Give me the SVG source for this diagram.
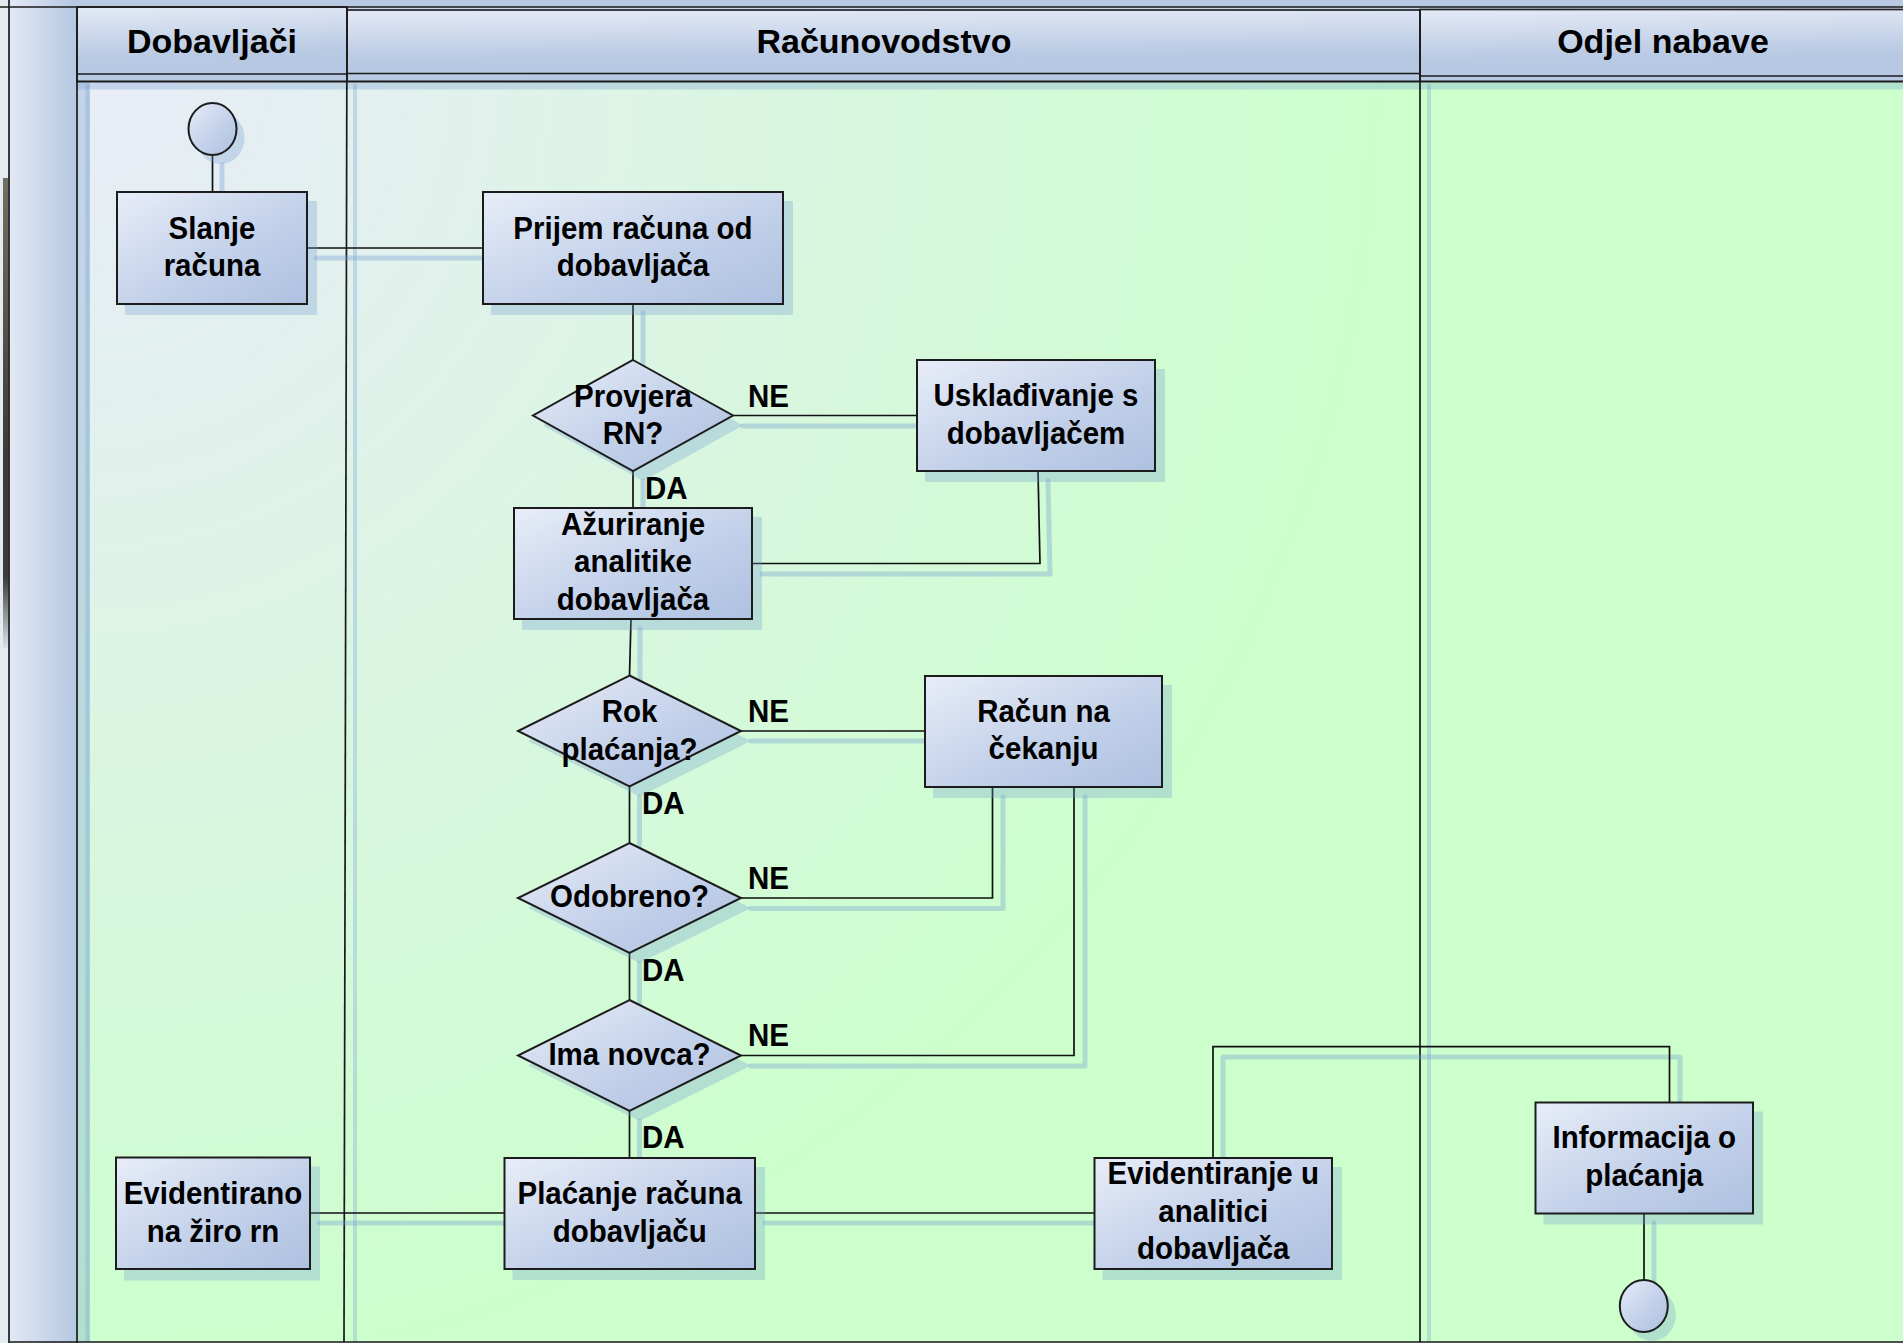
<svg xmlns="http://www.w3.org/2000/svg" width="1903" height="1343" viewBox="0 0 1903 1343">
<defs>
<radialGradient id="poolBg" gradientUnits="userSpaceOnUse" cx="80" cy="80" r="1320">
<stop offset="0" stop-color="#e8ecf6"/>
<stop offset="0.12" stop-color="#e5eef3"/>
<stop offset="1" stop-color="#ccffcc"/>
</radialGradient>
<linearGradient id="barGrad" x1="0" y1="0" x2="1" y2="0">
<stop offset="0" stop-color="#e3e9f4"/>
<stop offset="1" stop-color="#b5c7e2"/>
</linearGradient>
<linearGradient id="hdrGrad" x1="0" y1="0" x2="0.12" y2="1">
<stop offset="0" stop-color="#e4eaf6"/>
<stop offset="0.7" stop-color="#b8c9e3"/>
<stop offset="1" stop-color="#b6c8e2"/>
</linearGradient>
<linearGradient id="nodeGrad" x1="0" y1="0" x2="1" y2="1">
<stop offset="0" stop-color="#e8edf8"/>
<stop offset="0.55" stop-color="#c3d1ea"/>
<stop offset="1" stop-color="#aec1e0"/>
</linearGradient>
<linearGradient id="edgeDark" x1="0" y1="0" x2="0" y2="1">
<stop offset="0" stop-color="#707062"/>
<stop offset="0.6" stop-color="#3a3a36"/>
<stop offset="0.85" stop-color="#3c3c3e"/>
<stop offset="1" stop-color="#dde3ea"/>
</linearGradient>
</defs>
<style>
.node{fill:url(#nodeGrad);stroke:#1c1c1c;stroke-width:2}
.shadow{fill:#6f9bd0;fill-opacity:0.3;stroke:none}
.conn{fill:none;stroke:#111;stroke-width:1.7}
.cshadow{fill:none;stroke:#6f9bd0;stroke-opacity:0.35;stroke-width:5;stroke-linecap:round;stroke-linejoin:round}
.lbl{font-family:"Liberation Sans",Arial,sans-serif;font-weight:bold;font-size:29.5px;fill:#000;text-anchor:middle;transform-box:fill-box;transform-origin:center;transform:scaleY(1.08)}
.edge{font-family:"Liberation Sans",Arial,sans-serif;font-weight:bold;font-size:29.5px;fill:#000;transform-box:fill-box;transform-origin:center;transform:scaleY(1.08)}
.hdrtxt{font-family:"Liberation Sans",Arial,sans-serif;font-weight:bold;font-size:34px;fill:#000;text-anchor:middle}
.hdr{fill:url(#hdrGrad);stroke:#222;stroke-width:1.7}
.line{stroke:#1a1a1a;stroke-width:1.7;fill:none}
.lshadow{stroke:#6f9bd0;stroke-opacity:0.3;stroke-width:4;fill:none}
</style>

<g id="pool">
<rect x="0" y="0" width="1903" height="1343" fill="#e4ecf2"/>
<rect x="3" y="178" width="5.5" height="470" fill="url(#edgeDark)"/>
<rect x="9" y="0" width="1894" height="7" fill="#b8c9e3"/>
<rect x="9" y="0" width="68" height="1343" fill="url(#barGrad)"/>
<rect x="77" y="7" width="1826" height="4" fill="#c9d6eb"/>
<rect x="77" y="81" width="1826" height="1261" fill="url(#poolBg)"/>
<rect x="77" y="82.5" width="1826" height="7" class="shadow" fill-opacity="0.22"/>
<rect x="77" y="82" width="13" height="1260" class="shadow" fill-opacity="0.2"/>
<line x1="87.5" y1="84" x2="87.5" y2="1342" class="lshadow"/>
<line x1="355" y1="84" x2="355" y2="1342" class="lshadow"/>
<line x1="1429" y1="84" x2="1429" y2="1342" class="lshadow"/>
</g>

<g id="lane-dobavljaci">
<rect x="77" y="7" width="270" height="74.5" class="hdr"/>
<line x1="77" y1="74" x2="347" y2="74" class="line"/>
<text x="212" y="52.7" class="hdrtxt">Dobavljači</text>
</g>
<g id="lane-racunovodstvo">
<rect x="347" y="10" width="1073" height="71.5" class="hdr"/>
<line x1="347" y1="73.5" x2="1420" y2="73.5" class="line"/>
<text x="884" y="52.7" class="hdrtxt">Računovodstvo</text>
</g>
<g id="lane-odjel-nabave">
<rect x="1420" y="9.5" width="490" height="72" class="hdr"/>
<line x1="1420" y1="76" x2="1903" y2="76" class="line"/>
<text x="1663" y="52.7" class="hdrtxt">Odjel nabave</text>
</g>

<g id="pool-lines">
<line x1="0" y1="7" x2="1903" y2="7" class="line"/>
<line x1="77" y1="81.5" x2="1903" y2="81.5" class="line"/>
<line x1="9" y1="0" x2="9" y2="1343" class="line" stroke-width="1.3"/>
<line x1="77" y1="7" x2="77" y2="1343" class="line"/>
<line x1="347" y1="7" x2="344" y2="1342" class="line"/>
<line x1="1420" y1="9.5" x2="1420" y2="1342" class="line"/>
<line x1="9" y1="1342" x2="1903" y2="1342" class="line" stroke="#555"/>
</g>

<g id="connector-shadows">
<path class="cshadow" d="M222 165V204"/>
<path class="cshadow" d="M316 258H495"/>
<path class="cshadow" d="M643 313V372"/>
<path class="cshadow" d="M743 426H929"/>
<path class="cshadow" d="M643 481V520"/>
<path class="cshadow" d="M1048 481L1050 574H762"/>
<path class="cshadow" d="M640 629V688"/>
<path class="cshadow" d="M751 741H936"/>
<path class="cshadow" d="M639.5 797V855"/>
<path class="cshadow" d="M751 908.5H1003V797"/>
<path class="cshadow" d="M639.5 963V1012"/>
<path class="cshadow" d="M751 1066H1085V797"/>
<path class="cshadow" d="M639.5 1121V1170"/>
<path class="cshadow" d="M319 1223H516"/>
<path class="cshadow" d="M765 1223H1106"/>
<path class="cshadow" d="M1223 1167V1057H1680V1113"/>
<path class="cshadow" d="M1654 1223V1290"/>
</g>

<g id="connectors">
<path class="conn" d="M212.5 155V192"/>
<path class="conn" d="M307 248H483"/>
<path class="conn" d="M633 304V360"/>
<path class="conn" d="M733 415.5H917"/>
<path class="conn" d="M633 471V508"/>
<path class="conn" d="M1038 471L1040 563.5H752"/>
<path class="conn" d="M631 619L629.5 675.5"/>
<path class="conn" d="M741 731H925"/>
<path class="conn" d="M629.5 786.5V843"/>
<path class="conn" d="M741 898H992.5V787"/>
<path class="conn" d="M629.5 953V1000"/>
<path class="conn" d="M741 1055.5H1074V787"/>
<path class="conn" d="M629.5 1111V1158"/>
<path class="conn" d="M310 1213H504.5"/>
<path class="conn" d="M755 1213H1094.5"/>
<path class="conn" d="M1213 1158V1046.7H1669.5V1102.5"/>
<path class="conn" d="M1644 1213.5V1280"/>
<text x="748" y="406.7" class="edge">NE</text>
<text x="645" y="498" class="edge">DA</text>
<text x="748" y="721.7" class="edge">NE</text>
<text x="642" y="813" class="edge">DA</text>
<text x="748" y="888.3" class="edge">NE</text>
<text x="642" y="980.7" class="edge">DA</text>
<text x="748" y="1044.8" class="edge">NE</text>
<text x="642" y="1147.3" class="edge">DA</text>
</g>

<g id="start">
<ellipse cx="220.5" cy="138" rx="24" ry="26" class="shadow"/>
<ellipse cx="212.5" cy="129" rx="24" ry="26" class="node" stroke-width="1.7"/>
</g>
<g id="slanje-racuna">
<rect x="125" y="201" width="192" height="114" class="shadow"/>
<rect x="117" y="192" width="190" height="112" class="node"/>
<text class="lbl" x="212" y="238">Slanje</text>
<text class="lbl" x="212" y="275.5">računa</text>
</g>
<g id="prijem-racuna">
<rect x="491" y="201" width="302" height="114" class="shadow"/>
<rect x="483" y="192" width="300" height="112" class="node"/>
<text class="lbl" x="633" y="238">Prijem računa od</text>
<text class="lbl" x="633" y="275.5">dobavljača</text>
</g>
<g id="provjera-rn">
<polygon points="643,370 743,425.5 643,481 543,425.5" class="shadow"/>
<polygon points="633,360 733,415.5 633,471 533,415.5" class="node" stroke-width="1.7"/>
<text class="lbl" x="633" y="406">Provjera</text>
<text class="lbl" x="633" y="443">RN?</text>
</g>
<g id="uskladivanje">
<rect x="925" y="369" width="240" height="113" class="shadow"/>
<rect x="917" y="360" width="238" height="111" class="node"/>
<text class="lbl" x="1036" y="405.5">Usklađivanje s</text>
<text class="lbl" x="1036" y="443">dobavljačem</text>
</g>
<g id="azuriranje">
<rect x="522" y="517" width="240" height="113" class="shadow"/>
<rect x="514" y="508" width="238" height="111" class="node"/>
<text class="lbl" x="633" y="534">Ažuriranje</text>
<text class="lbl" x="633" y="571.7">analitike</text>
<text class="lbl" x="633" y="609">dobavljača</text>
</g>
<g id="rok-placanja">
<polygon points="639.5,685.5 751,741 639.5,796.5 528,741" class="shadow"/>
<polygon points="629.5,675.5 741,731 629.5,786.5 518,731" class="node" stroke-width="1.7"/>
<text class="lbl" x="629.5" y="721">Rok</text>
<text class="lbl" x="629.5" y="759">plaćanja?</text>
</g>
<g id="racun-na-cekanju">
<rect x="933" y="685" width="239" height="113" class="shadow"/>
<rect x="925" y="676" width="237" height="111" class="node"/>
<text class="lbl" x="1043.5" y="721">Račun na</text>
<text class="lbl" x="1043.5" y="758.5">čekanju</text>
</g>
<g id="odobreno">
<polygon points="639.5,853 751,908 639.5,963 528,908" class="shadow"/>
<polygon points="629.5,843 741,898 629.5,953 518,898" class="node" stroke-width="1.7"/>
<text class="lbl" x="629.5" y="906">Odobreno?</text>
</g>
<g id="ima-novca">
<polygon points="639.5,1010 751,1065.5 639.5,1121 528,1065.5" class="shadow"/>
<polygon points="629.5,1000 741,1055.5 629.5,1111 518,1055.5" class="node" stroke-width="1.7"/>
<text class="lbl" x="629.5" y="1064">Ima novca?</text>
</g>
<g id="placanje-racuna">
<rect x="512.5" y="1167" width="252.5" height="113" class="shadow"/>
<rect x="504.5" y="1158" width="250.5" height="111" class="node"/>
<text class="lbl" x="629.75" y="1203.5">Plaćanje računa</text>
<text class="lbl" x="629.75" y="1241">dobavljaču</text>
</g>
<g id="evidentirano">
<rect x="124" y="1166.5" width="196" height="114" class="shadow"/>
<rect x="116" y="1157.5" width="194" height="111.5" class="node"/>
<text class="lbl" x="213" y="1203.5">Evidentirano</text>
<text class="lbl" x="213" y="1241">na žiro rn</text>
</g>
<g id="evidentiranje-analitici">
<rect x="1102.5" y="1167" width="239.5" height="113" class="shadow"/>
<rect x="1094.5" y="1158" width="237.5" height="111" class="node"/>
<text class="lbl" x="1213.25" y="1183.5">Evidentiranje u</text>
<text class="lbl" x="1213.25" y="1221.5">analitici</text>
<text class="lbl" x="1213.25" y="1258.5">dobavljača</text>
</g>
<g id="informacija">
<rect x="1543.5" y="1111.5" width="219.5" height="113" class="shadow"/>
<rect x="1535.5" y="1102.5" width="217.5" height="111" class="node"/>
<text class="lbl" x="1644.25" y="1147">Informacija o</text>
<text class="lbl" x="1644.25" y="1185">plaćanja</text>
</g>
<g id="end">
<ellipse cx="1651.8" cy="1315" rx="24" ry="26" class="shadow"/>
<ellipse cx="1643.8" cy="1306" rx="24" ry="26" class="node" stroke-width="1.7"/>
</g>
</svg>
